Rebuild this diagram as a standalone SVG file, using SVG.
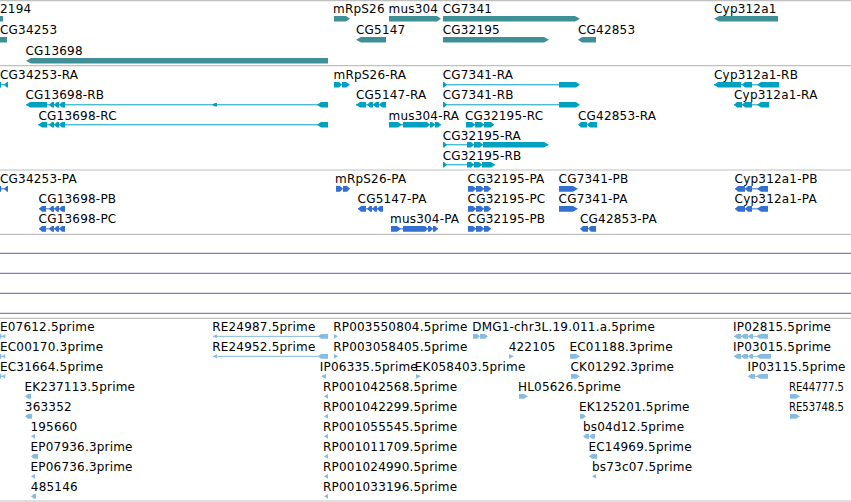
<svg xmlns="http://www.w3.org/2000/svg" width="851" height="502" viewBox="0 0 851 502">
<style>
text{font-family:"DejaVu Sans","Liberation Sans",sans-serif;font-size:12px;fill:#000;letter-spacing:0.2px}
text.fit{letter-spacing:0;font-size:11.5px}
.gn{fill:#3f8f96}
.tx{fill:#00a0c0}
.pr{fill:#3370d0}
.es{fill:#88bbe0}
.ltx{stroke:#00a0c0;stroke-width:1}
.lpr{stroke:#3370d0;stroke-width:1}
.les{stroke:#88bbe0;stroke-width:1}
.sep{stroke:#c0c0c0;stroke-width:1.2}
.pur{stroke:#7456b4;stroke-width:1}
</style>
<rect x="0" y="0" width="851" height="502" fill="#fff"/>
<g id="tracks">
<line class="sep" x1="0" y1="0.7" x2="851" y2="0.7"/>
<line class="sep" x1="0" y1="65.7" x2="851" y2="65.7"/>
<line class="sep" x1="0" y1="170" x2="851" y2="170"/>
<line class="sep" x1="0" y1="234.3" x2="851" y2="234.3"/>
<line class="pur" x1="0" y1="253.3" x2="851" y2="253.3"/>
<line class="pur" x1="0" y1="273.3" x2="851" y2="273.3"/>
<line class="pur" x1="0" y1="293.3" x2="851" y2="293.3"/>
<line class="pur" x1="0" y1="313.3" x2="851" y2="313.3"/>
<line class="sep" x1="0" y1="318.3" x2="851" y2="318.3"/>
<line class="sep" x1="0" y1="501" x2="851" y2="501"/>
</g>

<!-- Genes -->
<g id="gene-2194"><text x="0" y="12.5">2194</text><rect class="gn" x="0" y="16" width="3" height="5.5"/></g>
<g id="gene-mRpS26"><text x="333" y="12.5">mRpS26</text><path class="gn" d="M334 16H346L350 18.75L346 21.5H334Z"/></g>
<g id="gene-mus304"><text x="388.5" y="12.5">mus304</text><path class="gn" d="M389 16H437L441 18.75L437 21.5H389Z"/></g>
<g id="gene-CG7341"><text x="442.7" y="12.5">CG7341</text><path class="gn" d="M443 16H575L580 18.75L575 21.5H443Z"/></g>
<g id="gene-Cyp312a1"><text x="714" y="12.5">Cyp312a1</text><path class="gn" d="M778 16H719L714 18.75L719 21.5H778Z"/></g>
<g id="gene-CG34253"><text x="0" y="33.7">CG34253</text><rect class="gn" x="0" y="37" width="7" height="5.5"/></g>
<g id="gene-CG5147"><text x="356" y="33.7">CG5147</text><path class="gn" d="M386 37H361L356 39.75L361 42.5H386Z"/></g>
<g id="gene-CG32195"><text x="442.7" y="33.7">CG32195</text><path class="gn" d="M443 37H544L549 39.75L544 42.5H443Z"/></g>
<g id="gene-CG42853"><text x="578" y="33.7">CG42853</text><path class="gn" d="M596 37H582L578 39.75L582 42.5H596Z"/></g>
<g id="gene-CG13698"><text x="25.5" y="54.7">CG13698</text><path class="gn" d="M328 58H31L26 60.75L31 63.5H328Z"/></g>

<!-- Transcripts -->
<g id="tx-CG34253-RA"><text x="0" y="79">CG34253-RA</text><line class="ltx" x1="0" y1="84.8" x2="8" y2="84.8"/><rect class="tx" x="0" y="82" width="1.2" height="5.6"/><path class="tx" d="M8 82H7L4 84.8L7 87.6H8Z"/></g>
<g id="tx-mRpS26-RA"><text x="333.5" y="79">mRpS26-RA</text><path class="tx" d="M334 82H339L342 84.8L339 87.6H334ZM342 82H346L350 84.8L346 87.6H342Z"/></g>
<g id="tx-CG7341-RA"><text x="442.7" y="79">CG7341-RA</text><line class="ltx" x1="443" y1="84.8" x2="559" y2="84.8"/><path class="tx" d="M443 82H444L447 84.8L444 87.6H443ZM559 82H576L580 84.8L576 87.6H559Z"/></g>
<g id="tx-Cyp312a1-RB"><text x="714" y="79">Cyp312a1-RB</text><line class="ltx" x1="714" y1="84.8" x2="779" y2="84.8"/><path class="tx" d="M741 82H718L714 84.8L718 87.6H741ZM752 82H745L742 84.8L745 87.6H752ZM779 82H761L757 84.8L761 87.6H779Z"/></g>

<g id="tx-CG13698-RB"><text x="25.5" y="99.3">CG13698-RB</text><line class="ltx" x1="26" y1="104.8" x2="328" y2="104.8"/><path class="tx" d="M47 102H30L26 104.8L30 107.6H47ZM54 102H52L49 104.8L52 107.6H54ZM59 102H57L54 104.8L57 107.6H59ZM65 102H62L59 104.8L62 107.6H65ZM217 103H215L212 104.8L215 106.6H217ZM328 102H321L317 104.8L321 107.6H328Z"/></g>
<g id="tx-CG5147-RA"><text x="356" y="99.3">CG5147-RA</text><line class="ltx" x1="356" y1="104.8" x2="386" y2="104.8"/><path class="tx" d="M366 102H360L356 104.8L360 107.6H366ZM373 102H370L367 104.8L370 107.6H373ZM379 102H376L373 104.8L376 107.6H379ZM386 102H382L379 104.8L382 107.6H386Z"/></g>
<g id="tx-CG7341-RB"><text x="442.7" y="99.3">CG7341-RB</text><line class="ltx" x1="443" y1="104.8" x2="559" y2="104.8"/><path class="tx" d="M443 102H444L447 104.8L444 107.6H443ZM559 102H576L580 104.8L576 107.6H559Z"/></g>
<g id="tx-Cyp312a1-RA"><text x="734" y="99.3">Cyp312a1-RA</text><line class="ltx" x1="734" y1="104.8" x2="769" y2="104.8"/><path class="tx" d="M742 102H737L734 104.8L737 107.6H742ZM752 102H745L742 104.8L745 107.6H752ZM769 102H761L757 104.8L761 107.6H769Z"/></g>

<g id="tx-CG13698-RC"><text x="38.5" y="119.5">CG13698-RC</text><line class="ltx" x1="38" y1="124.8" x2="328" y2="124.8"/><path class="tx" d="M47 122H42L38 124.8L42 127.6H47ZM54 122H52L49 124.8L52 127.6H54ZM59 122H57L54 124.8L57 127.6H59ZM65 122H62L59 124.8L62 127.6H65ZM328 122H321L317 124.8L321 127.6H328Z"/></g>
<g id="tx-mus304-RA"><text x="388.5" y="119.5">mus304-RA</text><line class="ltx" x1="389" y1="124.8" x2="441" y2="124.8"/><path class="tx" d="M389 122H398L402 124.8L398 127.6H389ZM403 122H427L430 124.8L427 127.6H403ZM430 122H432L435 124.8L432 127.6H430ZM435 122H438L441 124.8L438 127.6H435Z"/></g>
<g id="tx-CG32195-RC"><text x="465" y="119.5">CG32195-RC</text><line class="ltx" x1="466" y1="124.8" x2="494" y2="124.8"/><path class="tx" d="M466 122H472L475 124.8L472 127.6H466ZM475 122H481L484 124.8L481 127.6H475ZM484 122H491L494 124.8L491 127.6H484Z"/></g>
<g id="tx-CG42853-RA"><text x="578" y="119.5">CG42853-RA</text><path class="tx" d="M587 122H581L578 124.8L581 127.6H587ZM597 122H590L587 124.8L590 127.6H597Z"/></g>

<g id="tx-CG32195-RA"><text x="442.7" y="139.5">CG32195-RA</text><line class="ltx" x1="443" y1="144.8" x2="483" y2="144.8"/><path class="tx" d="M443 142H444L447 144.8L444 147.6H443ZM467 142H471L474 144.8L471 147.6H467ZM474 142H480L483 144.8L480 147.6H474ZM483 142H544L549 144.8L544 147.6H483Z"/></g>
<g id="tx-CG32195-RB"><text x="442.7" y="159.5">CG32195-RB</text><line class="ltx" x1="443" y1="164.8" x2="495" y2="164.8"/><path class="tx" d="M443 162H444L447 164.8L444 167.6H443ZM467 162H471L474 164.8L471 167.6H467ZM474 162H479L482 164.8L479 167.6H474ZM482 162H491L495 164.8L491 167.6H482Z"/></g>

<!-- Proteins -->
<g id="pr-CG34253-PA"><text x="0" y="183">CG34253-PA</text><line class="lpr" x1="0" y1="188.85" x2="8" y2="188.85"/><rect class="pr" x="0" y="186" width="1.2" height="5.7"/><path class="pr" d="M8 186H7L4 188.85L7 191.7H8Z"/></g>
<g id="pr-mRpS26-PA"><text x="335" y="183">mRpS26-PA</text><path class="pr" d="M336 186H340L343 188.85L340 191.7H336ZM343 186H347L350 188.85L347 191.7H343Z"/></g>
<g id="pr-CG32195-PA"><text x="467.6" y="183">CG32195-PA</text><line class="lpr" x1="468" y1="188.85" x2="491" y2="188.85"/><path class="pr" d="M468 186H473L476 188.85L473 191.7H468ZM476 186H481L484 188.85L481 191.7H476ZM484 186H488L491 188.85L488 191.7H484Z"/></g>
<g id="pr-CG7341-PB"><text x="558.6" y="183">CG7341-PB</text><path class="pr" d="M559 186H573L578 188.85L573 191.7H559Z"/></g>
<g id="pr-Cyp312a1-PB"><text x="734.6" y="183">Cyp312a1-PB</text><line class="lpr" x1="735" y1="188.85" x2="768" y2="188.85"/><path class="pr" d="M745 186H738L735 188.85L738 191.7H745ZM752 186H748L745 188.85L748 191.7H752ZM768 186H761L757 188.85L761 191.7H768Z"/></g>

<g id="pr-CG13698-PB"><text x="38.6" y="203">CG13698-PB</text><line class="lpr" x1="39" y1="208.85" x2="65" y2="208.85"/><path class="pr" d="M46 206H42L39 208.85L42 211.7H46ZM54 206H52L49 208.85L52 211.7H54ZM59 206H57L54 208.85L57 211.7H59ZM65 206H62L59 208.85L62 211.7H65Z"/></g>
<g id="pr-CG5147-PA"><text x="357.6" y="203">CG5147-PA</text><line class="lpr" x1="358" y1="208.85" x2="383" y2="208.85"/><path class="pr" d="M366 206H361L358 208.85L361 211.7H366ZM372 206H370L367 208.85L370 211.7H372ZM377 206H375L372 208.85L375 211.7H377ZM383 206H380L377 208.85L380 211.7H383Z"/></g>
<g id="pr-CG32195-PC"><text x="467.6" y="203">CG32195-PC</text><line class="lpr" x1="468" y1="208.85" x2="491" y2="208.85"/><path class="pr" d="M468 206H473L476 208.85L473 211.7H468ZM476 206H481L484 208.85L481 211.7H476ZM484 206H488L491 208.85L488 211.7H484Z"/></g>
<g id="pr-CG7341-PA"><text x="558.6" y="203">CG7341-PA</text><path class="pr" d="M559 206H573L578 208.85L573 211.7H559Z"/></g>
<g id="pr-Cyp312a1-PA"><text x="734.6" y="203">Cyp312a1-PA</text><line class="lpr" x1="735" y1="208.85" x2="768" y2="208.85"/><path class="pr" d="M745 206H738L735 208.85L738 211.7H745ZM752 206H748L745 208.85L748 211.7H752ZM768 206H761L757 208.85L761 211.7H768Z"/></g>

<g id="pr-CG13698-PC"><text x="38.6" y="223">CG13698-PC</text><line class="lpr" x1="39" y1="228.85" x2="65" y2="228.85"/><path class="pr" d="M46 226H42L39 228.85L42 231.7H46ZM54 226H52L49 228.85L52 231.7H54ZM59 226H57L54 228.85L57 231.7H59ZM65 226H62L59 228.85L62 231.7H65Z"/></g>
<g id="pr-mus304-PA"><text x="390" y="223">mus304-PA</text><line class="lpr" x1="391" y1="228.85" x2="438" y2="228.85"/><path class="pr" d="M391 226H397L401 228.85L397 231.7H391ZM403 226H425L428 228.85L425 231.7H403ZM428 226H430L433 228.85L430 231.7H428ZM433 226H435L438 228.85L435 231.7H433Z"/></g>
<g id="pr-CG32195-PB"><text x="467.6" y="223">CG32195-PB</text><line class="lpr" x1="468" y1="228.85" x2="491" y2="228.85"/><path class="pr" d="M468 226H473L476 228.85L473 231.7H468ZM476 226H481L484 228.85L481 231.7H476ZM484 226H488L491 228.85L488 231.7H484Z"/></g>
<g id="pr-CG42853-PA"><text x="580" y="223">CG42853-PA</text><path class="pr" d="M588 226H583L580 228.85L583 231.7H588ZM596 226H591L588 228.85L591 231.7H596Z"/></g>

<!-- ESTs -->
<g id="est-E07612"><text x="0" y="331">E07612.5prime</text><line class="les" x1="0" y1="336.35" x2="5" y2="336.35"/><rect class="es" x="0" y="334" width="1.2" height="4.7"/><path class="es" d="M5.3 334L2.3 336.35L5.3 338.7Z"/></g>
<g id="est-RE24987"><text x="212.2" y="331">RE24987.5prime</text><line class="les" x1="213" y1="336.35" x2="328" y2="336.35"/><path class="es" d="M217 334.3L213 336.35L217 338.4ZM328 334H321L318 336.35L321 338.7H328Z"/></g>
<g id="est-RP003550804"><text x="333.2" y="331">RP003550804.5prime</text><path class="es" d="M334 334L338 336.35L334 338.7Z"/></g>
<g id="est-DMG1"><text x="472.2" y="331">DMG1-chr3L.19.011.a.5prime</text><path class="es" d="M473 334H477L480 336.35L477 338.7H473ZM480 334H485L488 336.35L485 338.7H480Z"/></g>
<g id="est-IP02815"><text x="733" y="331">IP02815.5prime</text><line class="les" x1="734" y1="336.35" x2="768" y2="336.35"/><path class="es" d="M741 334H737L734 336.35L737 338.7H741ZM748 334H744L741 336.35L744 338.7H748ZM753 334H751L748 336.35L751 338.7H753ZM768 334H760L756 336.35L760 338.7H768Z"/></g>

<g id="est-EC00170"><text x="0" y="351">EC00170.3prime</text><line class="les" x1="0" y1="356.35" x2="5" y2="356.35"/><rect class="es" x="0" y="354" width="1.2" height="4.7"/><path class="es" d="M5.3 354L2.3 356.35L5.3 358.7Z"/></g>
<g id="est-RE24952"><text x="212.2" y="351">RE24952.5prime</text><line class="les" x1="213" y1="356.35" x2="328" y2="356.35"/><path class="es" d="M217 354.3L213 356.35L217 358.4ZM328 354H321L318 356.35L321 358.7H328Z"/></g>
<g id="est-RP003058405"><text x="333.2" y="351">RP003058405.5prime</text><path class="es" d="M334 354L338 356.35L334 358.7Z"/></g>
<g id="est-422105"><text x="508.7" y="351">422105</text><path class="es" d="M509 354L514 356.35L509 358.7Z"/></g>
<g id="est-EC01188"><text x="569.5" y="351">EC01188.3prime</text><path class="es" d="M570 354H576L580 356.35L576 358.7H570Z"/></g>
<g id="est-IP03015"><text x="733" y="351">IP03015.5prime</text><line class="les" x1="734" y1="356.35" x2="771" y2="356.35"/><path class="es" d="M741 354H737L734 356.35L737 358.7H741ZM748 354H744L741 356.35L744 358.7H748ZM753 354H751L748 356.35L751 358.7H753ZM771 354H760L756 356.35L760 358.7H771Z"/></g>

<g id="est-EC31664"><text x="0" y="371">EC31664.5prime</text><line class="les" x1="0" y1="376.35" x2="5" y2="376.35"/><rect class="es" x="0" y="374" width="1.2" height="4.7"/><path class="es" d="M5.3 374L2.3 376.35L5.3 378.7Z"/></g>
<g id="est-IP06335"><text x="319.8" y="371">IP06335.5prime</text><path class="es" d="M326 374L321 376.35L326 378.7Z"/></g>
<g id="est-EK058403"><text x="414.8" y="371">EK058403.5prime</text><path class="es" d="M416 374L421 376.35L416 378.7Z"/></g>
<g id="est-CK01292"><text x="570.5" y="371">CK01292.3prime</text><path class="es" d="M571 374H576L580 376.35L576 378.7H571Z"/></g>
<g id="est-IP03115"><text x="747.5" y="371">IP03115.5prime</text><line class="les" x1="748" y1="376.35" x2="768" y2="376.35"/><path class="es" d="M755 374H751L748 376.35L751 378.7H755ZM768 374H760L756 376.35L760 378.7H768Z"/></g>

<g id="est-EK237113"><text x="24.5" y="391">EK237113.5prime</text><path class="es" d="M31 394H28L25 396.35L28 398.7H31Z"/></g>
<g id="est-RP001042568"><text x="323" y="391">RP001042568.5prime</text><path class="es" d="M328 394L324 396.35L328 398.7Z"/></g>
<g id="est-HL05626"><text x="518" y="391">HL05626.5prime</text><path class="es" d="M519 394H524L528 396.35L524 398.7H519Z"/></g>
<g id="est-RE44777"><text class="fit" x="789" y="391" textLength="55" lengthAdjust="spacingAndGlyphs">RE44777.5</text><path class="es" d="M790 394H796L800 396.35L796 398.7H790Z"/></g>

<g id="est-363352"><text x="24.8" y="411">363352</text><path class="es" d="M32 414H28L25 416.35L28 418.7H32Z"/></g>
<g id="est-RP001042299"><text x="323" y="411">RP001042299.5prime</text><path class="es" d="M328 414L324 416.35L328 418.7Z"/></g>
<g id="est-EK125201"><text x="579" y="411">EK125201.5prime</text><path class="es" d="M580 414H583L586 416.35L583 418.7H580Z"/></g>
<g id="est-RE53748"><text class="fit" x="789" y="411" textLength="55" lengthAdjust="spacingAndGlyphs">RE53748.5</text><path class="es" d="M790 414H796L800 416.35L796 418.7H790Z"/></g>

<g id="est-195660"><text x="30.4" y="431">195660</text><path class="es" d="M35 434L31 436.35L35 438.7Z"/></g>
<g id="est-RP001055545"><text x="323" y="431">RP001055545.5prime</text><path class="es" d="M328 434L324 436.35L328 438.7Z"/></g>
<g id="est-bs04d12"><text x="583" y="431">bs04d12.5prime</text><path class="es" d="M589 434H586L583 436.35L586 438.7H589ZM595 434H592L589 436.35L592 438.7H595Z"/></g>

<g id="est-EP07936"><text x="30.5" y="451">EP07936.3prime</text><path class="es" d="M38 454H34L31 456.35L34 458.7H38Z"/></g>
<g id="est-RP001011709"><text x="323" y="451">RP001011709.5prime</text><path class="es" d="M328 454L324 456.35L328 458.7Z"/></g>
<g id="est-EC14969"><text x="588.5" y="451">EC14969.5prime</text><path class="es" d="M597 454H592L589 456.35L592 458.7H597Z"/></g>

<g id="est-EP06736"><text x="30.5" y="471">EP06736.3prime</text><path class="es" d="M35 474L31 476.35L35 478.7Z"/></g>
<g id="est-RP001024990"><text x="323" y="471">RP001024990.5prime</text><path class="es" d="M328 474L324 476.35L328 478.7Z"/></g>
<g id="est-bs73c07"><text x="592" y="471">bs73c07.5prime</text><path class="es" d="M596 474L592 476.35L596 478.7Z"/></g>

<g id="est-485146"><text x="30.8" y="491">485146</text><path class="es" d="M36 494H34L31 496.35L34 498.7H36Z"/></g>
<g id="est-RP001033196"><text x="323" y="491">RP001033196.5prime</text><path class="es" d="M328 494L324 496.35L328 498.7Z"/></g>
</svg>
